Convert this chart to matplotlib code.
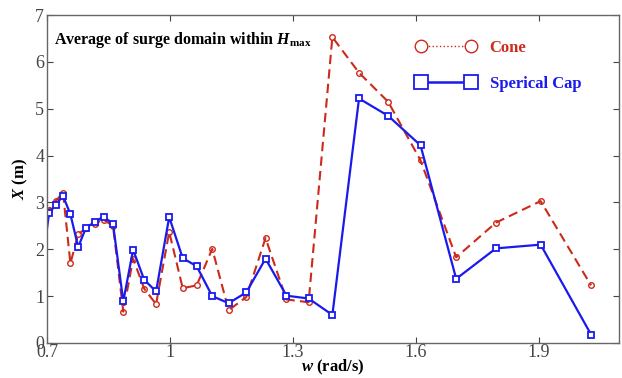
import numpy as np
import matplotlib
matplotlib.use("Agg")
import matplotlib.pyplot as plt
from matplotlib.lines import Line2D

plt.rcParams["font.family"] = "Liberation Serif"
plt.rcParams["mathtext.fontset"] = "custom"
plt.rcParams["mathtext.rm"] = "Liberation Serif:bold"
plt.rcParams["mathtext.it"] = "Liberation Serif:italic:bold"
plt.rcParams["mathtext.bf"] = "Liberation Serif:bold"

# frequency (rad/s); first point sits just left of the axis and is clipped
w = [0.690, 0.705, 0.721, 0.739, 0.757, 0.776, 0.795, 0.816, 0.838, 0.861,
     0.886, 0.910, 0.937, 0.966, 0.998, 1.031, 1.065, 1.103, 1.143, 1.186,
     1.233, 1.284, 1.338, 1.396, 1.461, 1.532, 1.611, 1.698, 1.795, 1.904,
     2.027]
cone = [2.80, 2.85, 3.03, 3.21, 1.70, 2.32, 2.45, 2.55, 2.63, 2.50,
        0.67, 1.80, 1.16, 0.83, 2.37, 1.17, 1.23, 2.01, 0.70, 0.98,
        2.24, 0.93, 0.87, 6.53, 5.77, 5.15, 3.90, 1.83, 2.57, 3.03,
        1.23]
cap = [1.80, 2.77, 2.95, 3.14, 2.75, 2.05, 2.46, 2.58, 2.70, 2.54,
       0.89, 1.99, 1.35, 1.10, 2.69, 1.81, 1.64, 1.00, 0.85, 1.08,
       1.80, 1.01, 0.95, 0.60, 5.22, 4.85, 4.22, 1.37, 2.02, 2.10,
       0.18]

RED = "#cc2a1a"
BLUE = "#1a1aee"

fig = plt.figure(figsize=(6.22, 3.78), dpi=100)
ax = fig.add_axes([0.0756, 0.0926, 0.9195, 0.8674])

ax.plot(w, cone, color=RED, lw=1.5, linestyle=(0, (4.5, 2.5)), marker="o",
        ms=4, mfc="none", mec=RED, mew=1.0)
ax.plot(w, cap, color=BLUE, lw=1.6, marker="s", ms=5, mfc="white",
        mec=BLUE, mew=1.3)

ax.set_xlim(0.7, 2.095)
ax.set_ylim(0, 7)
ax.set_xticks([0.7, 1.0, 1.3, 1.6, 1.9])
ax.set_xticklabels(["0.7", "1", "1.3", "1.6", "1.9"])
ax.set_yticks(range(8))
ax.tick_params(direction="in", top=True, right=True, length=4,
               labelsize=13, colors="#444444", pad=2)
ax.tick_params(axis="x", pad=1)
for s in ax.spines.values():
    s.set_color("#666666")
    s.set_linewidth(1.0)

ax.set_xlabel("$w$ (rad/s)", fontsize=12, fontweight="bold")
ax.xaxis.set_label_coords(0.5, -0.045)
ax.set_ylabel("$X$ (m)", fontsize=12, fontweight="bold", labelpad=4)
ax.text(0.012, 0.955, r"Average of surge domain within $H_{\mathrm{max}}$",
        transform=ax.transAxes, fontsize=11.5, fontweight="bold", va="top")

handles = [
    Line2D([], [], color=RED, lw=1.0, linestyle=":", marker="o", ms=9,
           mfc="white", mec=RED, mew=1.0),
    Line2D([], [], color=BLUE, lw=1.8, marker="s", ms=9.5, mfc="white",
           mec=BLUE, mew=1.3),
]
leg = ax.legend(handles, ["Cone", "Sperical Cap"], loc="upper right",
                bbox_to_anchor=(0.96, 0.97), frameon=False, numpoints=2,
                handlelength=3.6, labelspacing=1.2, prop={"weight": "bold", "size": 12})
for t, c in zip(leg.get_texts(), [RED, BLUE]):
    t.set_color(c)

plt.savefig("out.png", dpi=100)
